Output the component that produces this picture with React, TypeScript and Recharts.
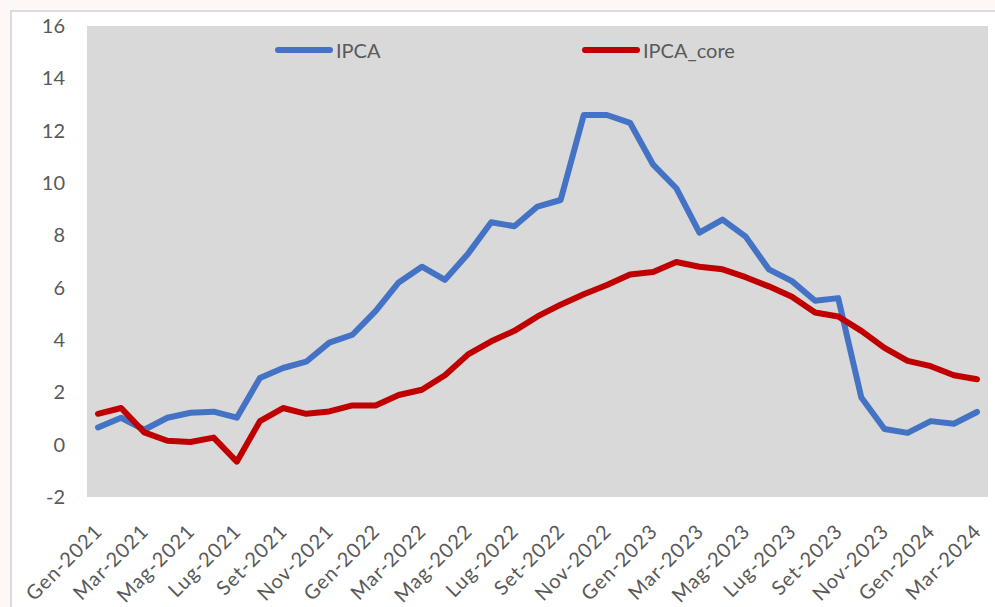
import { LineChart, Line, XAxis, YAxis, CartesianGrid } from 'recharts';

const months = [
  'Gen-2021', 'Feb-2021', 'Mar-2021', 'Apr-2021', 'Mag-2021', 'Giu-2021', 'Lug-2021', 'Ago-2021', 'Set-2021', 'Ott-2021', 'Nov-2021', 'Dic-2021',
  'Gen-2022', 'Feb-2022', 'Mar-2022', 'Apr-2022', 'Mag-2022', 'Giu-2022', 'Lug-2022', 'Ago-2022', 'Set-2022', 'Ott-2022', 'Nov-2022', 'Dic-2022',
  'Gen-2023', 'Feb-2023', 'Mar-2023', 'Apr-2023', 'Mag-2023', 'Giu-2023', 'Lug-2023', 'Ago-2023', 'Set-2023', 'Ott-2023', 'Nov-2023', 'Dic-2023',
  'Gen-2024', 'Feb-2024', 'Mar-2024',
];

const ipca = [
  0.66, 1.03, 0.57, 1.03, 1.22, 1.26, 1.03, 2.55, 2.93, 3.17, 3.9, 4.2,
  5.1, 6.2, 6.8, 6.3, 7.3, 8.5, 8.35, 9.1, 9.35, 12.6, 12.6, 12.3,
  10.7, 9.8, 8.1, 8.6, 7.95, 6.7, 6.25, 5.5, 5.6, 1.8, 0.6, 0.45,
  0.9, 0.8, 1.25,
];

const ipcaCore = [
  1.18, 1.4, 0.47, 0.15, 0.1, 0.27, -0.65, 0.9, 1.4, 1.18, 1.27, 1.5,
  1.5, 1.9, 2.1, 2.65, 3.45, 3.95, 4.35, 4.9, 5.35, 5.75, 6.1, 6.5,
  6.6, 6.98, 6.8, 6.7, 6.4, 6.05, 5.65, 5.05, 4.9, 4.35, 3.7, 3.2,
  3.0, 2.65, 2.5,
];

const yTicks = [-2, 0, 2, 4, 6, 8, 10, 12, 14, 16];

const data = months.map((m, i) => ({ month: m, IPCA: ipca[i], IPCA_core: ipcaCore[i] }));

const font = 'Lato, "Open Sans", sans-serif';
const textColor = '#595959';

function MonthTick(props: any) {
  const { x, y, payload } = props;
  const tx = x;
  const ty = y + 22;
  return (
    <text
      x={tx}
      y={ty}
      transform={`rotate(-45, ${tx}, ${ty})`}
      textAnchor="end"
      dominantBaseline="central"
      fill={textColor}
      fontSize={20}
      letterSpacing={1}
      fontFamily={font}
    >
      {payload.value}
    </text>
  );
}

function LegendItem({ color, label, left }: { color: string; label: string; left: number }) {
  return (
    <div style={{ position: 'absolute', left, top: 38, display: 'flex', alignItems: 'center', height: 24 }}>
      <div style={{ width: 58, height: 6, borderRadius: 3, background: color }} />
      <span style={{ marginLeft: 3, fontSize: 20, color: textColor, fontFamily: font }}>{label}</span>
    </div>
  );
}

export default function App() {
  return (
    <div style={{ position: 'absolute', left: 0, top: 0, width: 995, height: 607, background: '#fdf8f6', overflow: 'hidden' }}>
      <div
        style={{
          position: 'absolute',
          left: 10,
          top: 10,
          width: 1000,
          height: 620,
          background: '#ffffff',
          borderLeft: '2px solid #dcdcdc',
          borderTop: '2px solid #dcdcdc',
        }}
      />
      <div style={{ position: 'absolute', left: 0, top: 0 }}>
        <LineChart width={995} height={607} data={data} margin={{ top: 26, right: 7, bottom: 0, left: 0 }}>
          <CartesianGrid fill="#d9d9d9" horizontal={false} vertical={false} />
          <XAxis
            dataKey="month"
            interval={1}
            height={110}
            padding={{ left: 11, right: 11 }}
            axisLine={false}
            tickLine={false}
            tick={<MonthTick />}
          />
          <YAxis
            width={87}
            domain={[-2, 16]}
            ticks={yTicks}
            axisLine={false}
            tickLine={false}
            tickSize={0}
            tickMargin={22}
            tick={{ fill: textColor, fontSize: 20, fontFamily: font }}
          />
          <Line
            type="linear"
            dataKey="IPCA"
            stroke="#4472c4"
            strokeWidth={6}
            dot={false}
            strokeLinejoin="round"
            strokeLinecap="round"
            isAnimationActive={false}
          />
          <Line
            type="linear"
            dataKey="IPCA_core"
            stroke="#c00000"
            strokeWidth={6}
            dot={false}
            strokeLinejoin="round"
            strokeLinecap="round"
            isAnimationActive={false}
          />
        </LineChart>
      </div>
      <LegendItem color="#4472c4" label="IPCA" left={275} />
      <LegendItem color="#c00000" label="IPCA_core" left={582} />
    </div>
  );
}
